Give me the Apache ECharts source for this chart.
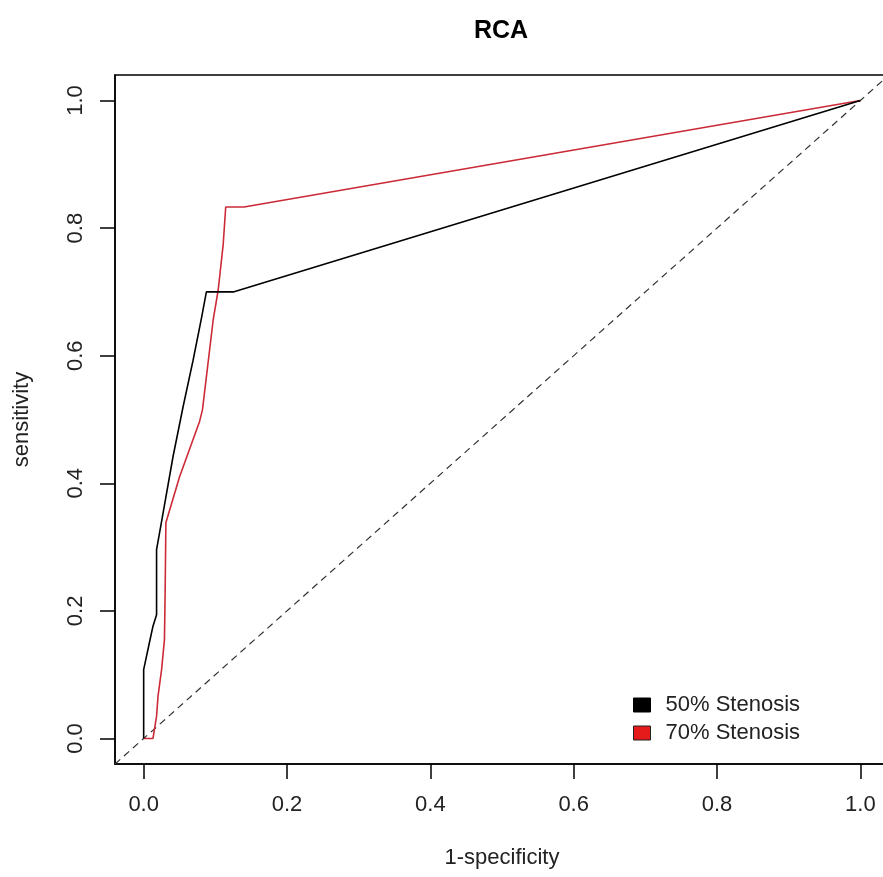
<!DOCTYPE html>
<html>
<head>
<meta charset="utf-8">
<script src="https://cdn.jsdelivr.net/npm/echarts@6/dist/echarts.min.js"></script>
<style>
  html, body { margin: 0; padding: 0; background: #fff; overflow: hidden; }
  #main { width: 883px; height: 877px; }
</style>
</head>
<body>
<div id="main"></div>
<script>
// tick positions on both axes
const ticks = [0, 0.2, 0.4, 0.6, 0.8, 1.0];

// ROC points, [1-specificity, sensitivity]
const stenosis50 = [
  [0, 0], [0, 0.108], [0.004, 0.129], [0.008, 0.150], [0.013, 0.176],
  [0.018, 0.194], [0.018, 0.296], [0.027, 0.353], [0.041, 0.442],
  [0.055, 0.520], [0.069, 0.593], [0.081, 0.661], [0.0875, 0.700],
  [0.125, 0.700], [1, 1]
];
const stenosis70 = [
  [0, 0], [0.013, 0], [0.015, 0.014], [0.018, 0.035], [0.020, 0.066],
  [0.025, 0.108], [0.029, 0.155], [0.030, 0.233], [0.031, 0.338],
  [0.050, 0.410], [0.078, 0.497], [0.082, 0.515], [0.097, 0.656],
  [0.104, 0.703], [0.111, 0.775], [0.1145, 0.833], [0.14, 0.833], [1, 1]
];
const chance = [[-0.04, -0.04], [1.04, 1.04]];

const fontFam = '"Liberation Sans", Arial, sans-serif';
const tickLabel = v => v.toFixed(1);

const chart = echarts.init(document.getElementById('main'));
chart.setOption({
  backgroundColor: '#fff',
  animation: false,
  textStyle: { fontFamily: fontFam },
  title: {
    text: 'RCA',
    left: 469, top: 14,
    textStyle: { fontSize: 25, fontWeight: 'bold', color: '#000', fontFamily: fontFam }
  },
  legend: {
    orient: 'vertical',
    left: 628, top: 689,
    itemWidth: 17, itemHeight: 14, itemGap: 6,
    icon: 'rect',
    textStyle: { fontSize: 22, color: '#222', padding: [0, 0, 0, 10] },
    data: [
      { name: '50% Stenosis', itemStyle: { color: '#000', borderColor: '#000', borderWidth: 1 } },
      { name: '70% Stenosis', itemStyle: { color: '#e51a1a', borderColor: '#222', borderWidth: 1 } }
    ]
  },
  grid: {
    left: 115, top: 75, width: 774, height: 689,
    outerBoundsMode: 'none', containLabel: false,
    show: true, borderColor: '#000', borderWidth: 1.5, backgroundColor: 'transparent'
  },
  xAxis: {
    type: 'value', min: -0.04, max: 1.04,
    name: '1-specificity', nameLocation: 'middle', nameGap: 83,
    nameTextStyle: { fontSize: 22, color: '#222' },
    axisLine: { show: true, onZero: false, lineStyle: { color: '#000', width: 1.5 } },
    axisTick: { show: true, length: 15, customValues: ticks, lineStyle: { color: '#000', width: 1.5 } },
    axisLabel: { customValues: ticks, formatter: tickLabel, fontSize: 22, color: '#222', margin: 30 },
    splitLine: { show: false }
  },
  yAxis: {
    type: 'value', min: -0.04, max: 1.04,
    name: 'sensitivity', nameLocation: 'middle', nameGap: 82, nameRotate: 90,
    nameTextStyle: { fontSize: 22, color: '#222' },
    axisLine: { show: true, onZero: false, lineStyle: { color: '#000', width: 1.5 } },
    axisTick: { show: true, length: 15, customValues: ticks, lineStyle: { color: '#000', width: 1.5 } },
    axisLabel: { customValues: ticks, formatter: tickLabel, fontSize: 22, color: '#222', margin: 28, rotate: 90 },
    splitLine: { show: false }
  },
  series: [
    {
      name: 'chance', type: 'line', data: chance, symbol: 'none', silent: true,
      lineStyle: { color: '#333', width: 1.2, type: [7, 5] }, z: 1
    },
    {
      name: '50% Stenosis', type: 'line', data: stenosis50, symbol: 'none',
      lineStyle: { color: '#000', width: 1.6 }, itemStyle: { color: '#000' }, z: 3
    },
    {
      name: '70% Stenosis', type: 'line', data: stenosis70, symbol: 'none',
      lineStyle: { color: '#cc2a36', width: 1.6 }, itemStyle: { color: '#e51a1a' }, z: 2
    }
  ]
});
</script>
</body>
</html>
